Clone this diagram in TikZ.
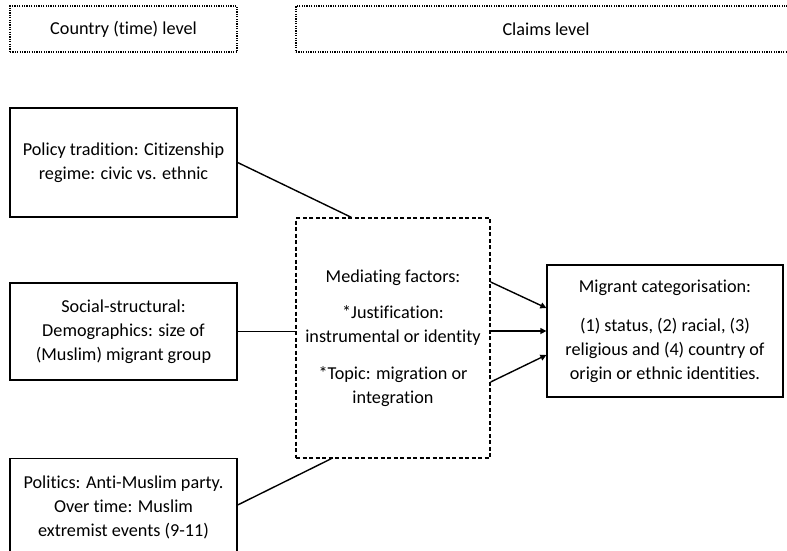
\documentclass[tikz,border=0pt]{standalone}
\usepackage{fontspec}
\setmainfont{Carlito}[Ligatures=NoCommon]
\usetikzlibrary{arrows.meta}

\begin{document}
\begin{tikzpicture}[x=1pt,y=-1pt,
  font=\fontsize{18.2}{24}\selectfont,
  factor/.style={draw,line width=1.3pt,align=center,minimum width=227,inner sep=0pt},
  level/.style={draw,line width=1.2pt,dash pattern=on 1.2pt off 1.2pt,minimum height=46,inner sep=0pt},
  link/.style={line width=1.4pt},
  flow/.style={line width=1.4pt,-{Triangle[length=6pt,width=6pt]}}]

  \useasboundingbox (0,0) rectangle (787,551);

  % Levels

  \node [level,minimum width=227] (ctr) at (123.5,29) {Country (time) level};
  \node [level,minimum width=500] (clm) at (546,29) {Claims level};

  % Country level factors

  \node [factor,minimum height=109] (pol) at (123.5,162.5)
    {Policy tradition: Citizenship\\regime: civic vs. ethnic};
  \node [factor,minimum height=97] (soc) at (123.5,331.5)
    {Social-structural:\\Demographics: size of\\(Muslim) migrant group};
  \node [factor,minimum height=97] (pti) at (123.5,507)
    {Politics: Anti-Muslim party.\\Over time: Muslim\\extremist events (9-11)};

  % Claims level

  \node [factor,dash pattern=on 4pt off 2.5pt,minimum width=194,minimum height=240] (med) at (393,338)
    {Mediating factors:\\[12pt]*Justification:\\instrumental or identity\\[13pt]*Topic: migration or\\integration};
  \node [factor,minimum width=236,minimum height=132] (mig) at (665,331)
    {Migrant categorisation:\\[15pt](1) status, (2) racial, (3)\\religious and (4) country of\\origin or ethnic identities.};

  % Connections

  \coordinate (medtop) at ([xshift=56]med.north west);
  \coordinate (medbot) at ([xshift=36]med.south west);

  \draw [link] (pol.east) -- (medtop);
  \draw [link] (soc.east) -- (med.west |- soc.east);
  \draw [link] ([yshift=2]pti.east) -- (medbot);

  \draw [flow] ([yshift=56]med.east) -- ([yshift=23]mig.west);
  \draw [flow] ([yshift=7]med.east) -- ([yshift=7]med.east -| mig.west);
  \draw [flow] ([yshift=-44]med.east) -- ([yshift=-24]mig.west);
\end{tikzpicture}
\end{document}
